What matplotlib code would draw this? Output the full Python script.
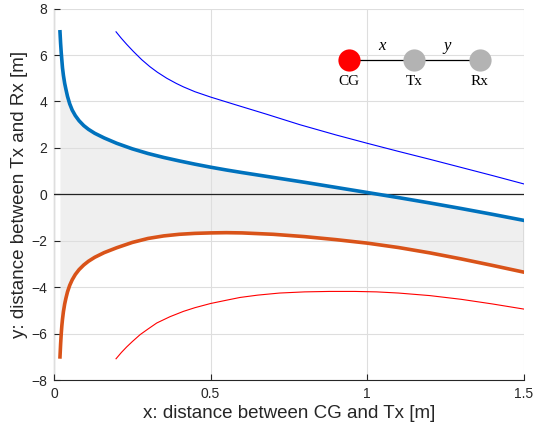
import numpy as np
import matplotlib.pyplot as plt

# thick curves share the same x samples
x_thick = [0.019, 0.021, 0.023, 0.025, 0.027, 0.030, 0.034, 0.038, 0.043, 0.05,
           0.058, 0.068, 0.08, 0.095, 0.11, 0.13, 0.16, 0.2, 0.25, 0.3,
           0.35, 0.4, 0.45, 0.5, 0.55, 0.6, 0.7, 0.8, 0.9, 1.0,
           1.1, 1.2, 1.3, 1.4, 1.5]
y_upper = [7.0, 6.5, 6.1, 5.77, 5.45, 5.12, 4.78, 4.52, 4.22, 3.9,
           3.63, 3.39, 3.17, 2.96, 2.80, 2.63, 2.43, 2.2, 1.96, 1.76,
           1.59, 1.44, 1.30, 1.17, 1.05, 0.94, 0.73, 0.52, 0.3, 0.08,
           -0.14, -0.37, -0.61, -0.86, -1.12]
y_lower = [-7.0, -6.45, -6.0, -5.65, -5.38, -5.05, -4.72, -4.47, -4.2, -3.92,
           -3.68, -3.45, -3.24, -3.04, -2.88, -2.71, -2.51, -2.3, -2.07, -1.9,
           -1.79, -1.72, -1.68, -1.66, -1.65, -1.66, -1.72, -1.82, -1.95, -2.1,
           -2.29, -2.52, -2.78, -3.06, -3.35]

x_thin_up = [0.198, 0.215, 0.232, 0.253, 0.28, 0.306, 0.33, 0.36, 0.39, 0.413,
             0.45, 0.5, 0.572, 0.679, 0.785, 0.9, 1.0, 1.1, 1.2, 1.3,
             1.4, 1.5]
y_thin_up = [7.0, 6.72, 6.46, 6.16, 5.8, 5.5, 5.26, 5.0, 4.78, 4.63,
             4.42, 4.19, 3.89, 3.45, 3.0, 2.56, 2.2, 1.85, 1.51, 1.16,
             0.81, 0.45]

x_thin_lo = [0.198, 0.215, 0.232, 0.25, 0.275, 0.3, 0.328, 0.37, 0.413, 0.45,
             0.5, 0.55, 0.594, 0.65, 0.72, 0.8, 0.88, 0.96, 1.03, 1.1,
             1.2, 1.3, 1.4, 1.5]
y_thin_lo = [-7.08, -6.81, -6.57, -6.34, -6.04, -5.8, -5.54, -5.27, -5.04, -4.88,
             -4.70, -4.56, -4.44, -4.34, -4.25, -4.2, -4.18, -4.18, -4.2, -4.25,
             -4.36, -4.52, -4.72, -4.94]

x_ticks = [0, 0.5, 1, 1.5]
x_ticklabels = ['0', '0.5', '1', '1.5']
y_ticks = [-8, -6, -4, -2, 0, 2, 4, 6, 8]

# little CG - Tx - Rx sketch
node_x = [0.942, 1.150, 1.360]
node_y = [5.78, 5.78, 5.78]
node_names = ['CG', 'Tx', 'Rx']
node_colors = ['#ff0000', '#b3b3b3', '#b3b3b3']

dark = '#262626'

fig = plt.figure(figsize=(5.35, 4.3), dpi=100)
ax = fig.add_axes([0.101, 0.116, 0.878, 0.864])

ax.fill_between(x_thick, y_upper, y_lower, color='#efefef', lw=0, zorder=1)
ax.vlines(x_thick[-1], y_lower[-1], y_upper[-1], color='#555555', lw=0.9, zorder=2)
ax.axhline(0, color='#222222', lw=0.9, zorder=2.8)

ax.plot(x_thin_up, y_thin_up, color='#0000ff', lw=0.8, zorder=3)
ax.plot(x_thin_lo, y_thin_lo, color='#ff0000', lw=0.8, zorder=3)
ax.plot(x_thick, y_upper, color='#0072bd', lw=2.6, zorder=4)
ax.plot(x_thick, y_lower, color='#d95319', lw=2.6, zorder=4)

ax.plot(node_x, node_y, color='k', lw=0.9, zorder=5)
for nx, ny, name, c in zip(node_x, node_y, node_names, node_colors):
    ax.plot(nx, ny, 'o', ms=16, mfc=c, mec='none', zorder=6)
    ax.text(nx, ny - 0.9, name, ha='center', va='center',
            family='Liberation Serif', fontsize=11, color='k', zorder=6)
ax.text((node_x[0] + node_x[1]) / 2, node_y[0] + 0.6, 'x', ha='center', va='center',
        family='Liberation Serif', style='italic', fontsize=12, zorder=6)
ax.text((node_x[1] + node_x[2]) / 2, node_y[0] + 0.6, 'y', ha='center', va='center',
        family='Liberation Serif', style='italic', fontsize=12, zorder=6)

ax.set_xlim(0, 1.5)
ax.set_ylim(-8, 8)
ax.set_xticks(x_ticks)
ax.set_xticklabels(x_ticklabels)
ax.set_yticks(y_ticks)
ax.grid(True, color='#dedede', lw=0.8)
ax.set_axisbelow(False)
for s in ['top', 'right']:
    ax.spines[s].set_visible(False)
for s in ['left', 'bottom']:
    ax.spines[s].set_color(dark)
    ax.spines[s].set_linewidth(0.8)
ax.tick_params(direction='in', length=4, width=0.8, color=dark, labelcolor=dark,
               labelsize=10, pad=5)
for lbl in ax.get_xticklabels() + ax.get_yticklabels():
    lbl.set_family('Liberation Sans')

ax.set_xlabel('x: distance between CG and Tx [m]', family='Liberation Sans',
              fontsize=13.5, color=dark, labelpad=3)
ax.set_ylabel('y: distance between Tx and Rx [m]', family='Liberation Sans',
              fontsize=13.5, color=dark, labelpad=2)

plt.savefig('out.png', dpi=100)
